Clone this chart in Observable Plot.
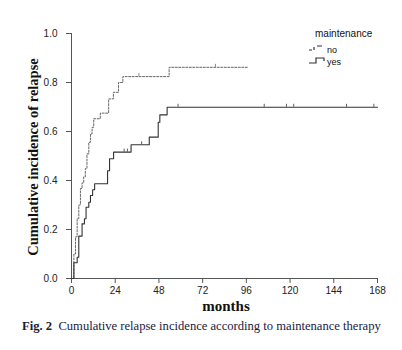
<!DOCTYPE html>
<html><head><meta charset="utf-8">
<script src="https://cdn.jsdelivr.net/npm/d3@7"></script>
<script src="https://cdn.jsdelivr.net/npm/@observablehq/plot@0.6"></script>
<style>
body{margin:0;background:#fff;}
#wrap{position:relative;width:402px;height:350px;overflow:hidden;}
.ov{position:absolute;white-space:nowrap;}
</style></head><body>
<div id="wrap"></div>
<script>
// Data
const noTimes  = [0, 1.3, 2.2, 3.1, 4.0, 4.9, 5.8, 6.7, 7.6, 8.5, 9.5, 10.4, 11.3, 12.2, 15.8, 20.4, 23.0, 25.8, 28.2, 53.6, 96.5];
const noValues = [0, 0.10, 0.17, 0.245, 0.30, 0.367, 0.39, 0.415, 0.449, 0.509, 0.556, 0.59, 0.617, 0.652, 0.675, 0.733, 0.760, 0.80, 0.824, 0.862, 0.862];
const yesTimes  = [0, 1.3, 3.1, 4.0, 5.8, 7.1, 8.0, 9.5, 10.4, 11.6, 12.7, 19.8, 20.9, 23.1, 32.7, 42.7, 47.6, 48.5, 52.5, 168];
const yesValues = [0, 0.064, 0.087, 0.173, 0.223, 0.244, 0.291, 0.311, 0.339, 0.362, 0.387, 0.44, 0.489, 0.516, 0.546, 0.577, 0.638, 0.668, 0.699, 0.699];
const noCensor  = [37, 79];
const yesCensor = [28.9, 30.7, 38.5, 58.5, 105.8, 118, 122, 151, 166];
const xTicks = [0, 24, 48, 72, 96, 120, 144, 168];
const yTicks = [0, 0.2, 0.4, 0.6, 0.8, 1.0];

const series = (times, values, group) => times.map((t, i) => ({t, v: values[i], group}));
const noData = series(noTimes, noValues, "no");
const yesData = series(yesTimes, yesValues, "yes");
const valueAt = (data, t) => { let v = 0; for (const d of data) if (d.t <= t) v = d.v; return v; };
const censor = (times, data) => times.map(t => ({t, v: valueAt(data, t)}));
const noC = censor(noCensor, noData);
const yesC = censor(yesCensor, yesData);

const axisColor = "#555";
const chart = Plot.plot({
  width: 402, height: 315,
  marginLeft: 71, marginRight: 25, marginTop: 33, marginBottom: 37,
  style: {fontFamily: "Liberation Sans, Arial, sans-serif", fontSize: "10px", color: "#222", background: "#fff"},
  x: {domain: [0, 168]},
  y: {domain: [0, 1]},
  marks: [
    Plot.axisX({ticks: xTicks, tickSize: 5, tickPadding: 3, label: null, stroke: axisColor, fontSize: 10}),
    Plot.axisY({ticks: yTicks, tickSize: 5, tickPadding: 9, tickFormat: d3.format(".1f"), label: null, stroke: axisColor, fontSize: 10}),
    Plot.ruleY([0], {x1: 0, x2: 168, stroke: axisColor}),
    Plot.ruleX([0], {y1: 0, y2: 1, stroke: axisColor}),
    Plot.line(noData, {x: "t", y: "v", curve: "step-after", stroke: "#666", strokeWidth: 1, strokeDasharray: "2,1.5"}),
    Plot.line(yesData, {x: "t", y: "v", curve: "step-after", stroke: "#333", strokeWidth: 1.1}),
    Plot.ruleX(noC, {x: "t", y1: "v", y2: d => d.v + 0.012, stroke: "#666", strokeWidth: 0.8}),
    Plot.ruleX(yesC, {x: "t", y1: "v", y2: d => d.v + 0.012, stroke: "#333", strokeWidth: 0.8})
  ]
});
const wrap = document.getElementById("wrap");
chart.style.position = "absolute"; chart.style.left = "0px"; chart.style.top = "0px";
wrap.appendChild(chart);

function ov(html, css) { const d = document.createElement("div"); d.className = "ov"; d.innerHTML = html; Object.assign(d.style, css); wrap.appendChild(d); return d; }
// y-axis title
ov("Cumulative incidence of relapse", {left: "33px", top: "157px", transform: "translate(-50%,-50%) rotate(-90deg)", font: "bold 14.5px 'Liberation Serif', 'Times New Roman', serif", color: "#111"});
// x-axis title
ov("months", {left: "226px", top: "306px", transform: "translate(-50%,-50%)", font: "bold 15px 'Liberation Serif', 'Times New Roman', serif", color: "#111"});
// caption
ov("<b>Fig. 2</b>&nbsp; Cumulative relapse incidence according to maintenance therapy", {left: "22px", top: "319px", font: "12.6px 'Liberation Serif', 'Times New Roman', serif", color: "#1a1a40"});
// legend
ov("maintenance", {left: "315px", top: "28px", font: "10px 'Liberation Sans', Arial, sans-serif", color: "#111"});
ov("no", {left: "327px", top: "45px", font: "9px 'Liberation Sans', Arial, sans-serif", color: "#111"});
ov("yes", {left: "327px", top: "57px", font: "9px 'Liberation Sans', Arial, sans-serif", color: "#111"});
ov('<svg width="20" height="24"><path d="M1,6 H4 M6,3 V6 M9,2 H14 M1,19 H8 V14 H16 V17" fill="none" stroke="#333" stroke-width="1.2"/></svg>', {left: "308px", top: "44px"});
</script>
</body></html>
